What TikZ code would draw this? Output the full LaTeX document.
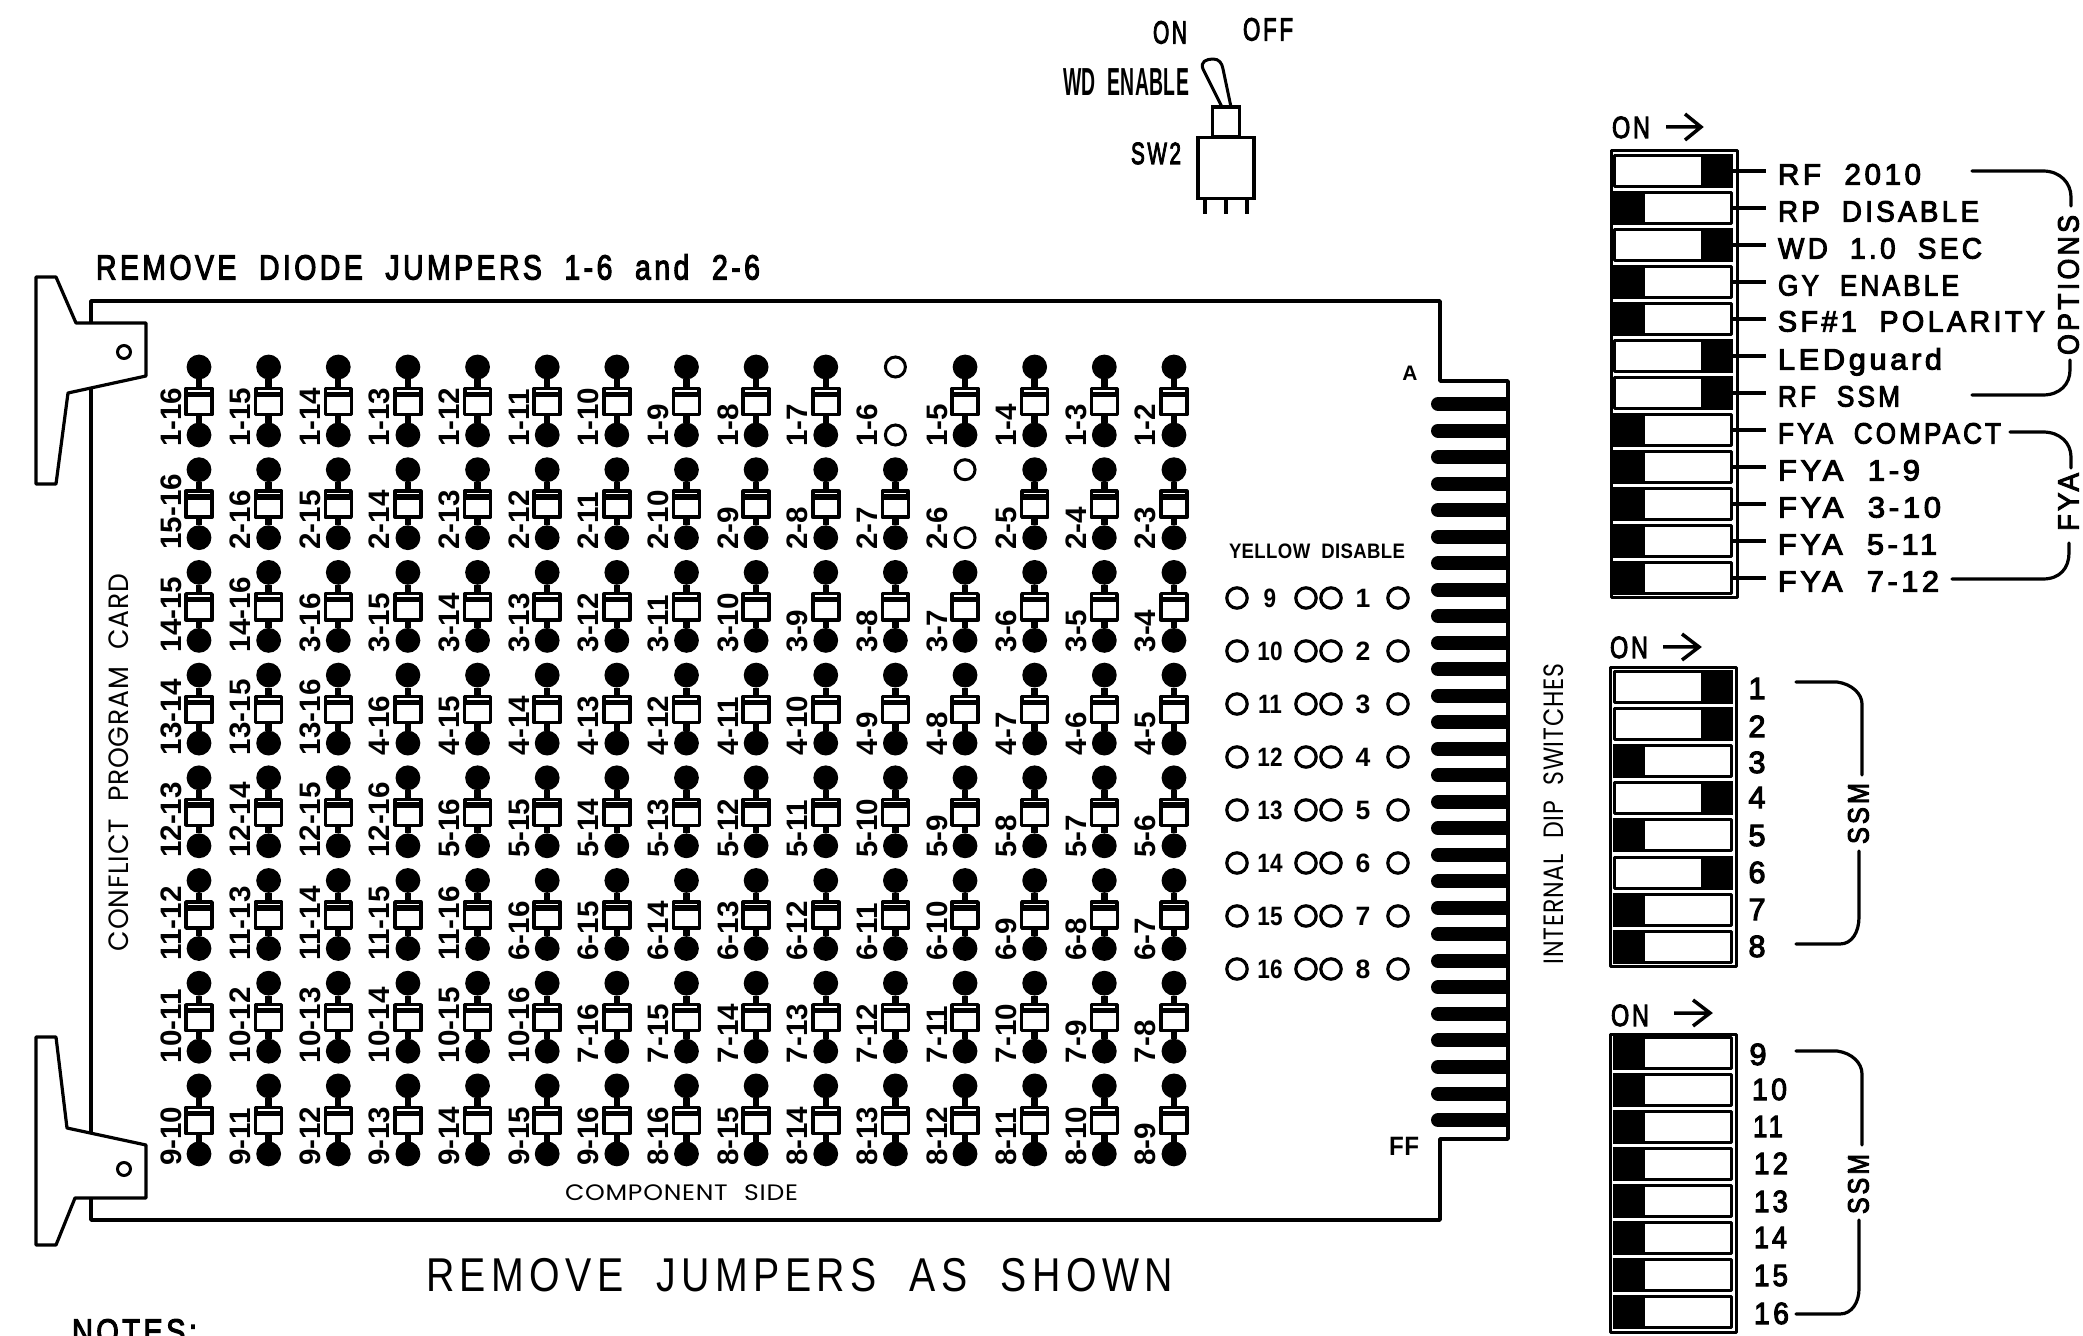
\documentclass[tikz,border=0pt]{standalone}
\usepackage{fontspec}
\usepackage{graphicx}
\setmainfont{Liberation Sans}
\newfontfamily\cad[LetterSpace=12,WordSpace=2,FakeBold=3.5]{Liberation Sans}
\newfontfamily\cadb[LetterSpace=2,WordSpace=2]{Liberation Sans Bold}
\newfontfamily\cadl[LetterSpace=14,WordSpace=2]{Liberation Sans}
\newfontfamily\geo[LetterSpace=3,WordSpace=2.2]{Poppins}
\newsavebox\fitb
\newcommand\fitbox[2]{\sbox\fitb{#2}\pgfmathsetmacro\fitr{(#1)*0.5/\the\wd\fitb}\scalebox{\fitr}[1]{\usebox\fitb}}
\tikzset{
  txt/.style={inner sep=0,outer sep=0,text=black},
  wire/.style={line width=1.75pt,line join=round,line cap=round},
  pin/.style={circle,fill=black,draw=none,minimum size=12.4pt,inner sep=0,outer sep=0},
  openpin/.style={circle,fill=white,draw=black,line width=1.5pt,minimum size=10pt,inner sep=0,outer sep=0},
  diode/.style={rectangle,draw=black,fill=white,line width=1.75pt,minimum width=13pt,minimum height=13pt,inner sep=0,outer sep=0,line join=round},
  stem/.style={line width=3.2pt},
  slot/.style={rectangle,draw=black,fill=white,line width=1.5pt,minimum width=58.5pt,minimum height=15.5pt,inner sep=0,outer sep=0,line join=round},
  dipcase/.style={draw=black,line width=1.5pt,line join=round},
  lead/.style={line width=1.75pt},
  bracket/.style={line width=1.6pt,line cap=round},
  finger/.style={line width=7pt},
}
% name, font, cap, xL, xR, yc, text
\newcommand\lbl[7]{\node[txt,anchor=base west] (#1) at (#4,{#6+#3/2}) {\pgfmathsetmacro\fs{#3/0.716*0.5}\fitbox{(#5)-(#4)}{#2\fontsize{\fs pt}{\fs pt}\selectfont #7}};}
% name, font, cap, xc, yc, text
\newcommand\clbl[6]{\node[txt,anchor=base] (#1) at (#4,{#5+#3/2}) {\pgfmathsetmacro\fs{#3/0.716*0.5}#2\fontsize{\fs pt}{\fs pt}\selectfont #6};}
% name, font, cap, xc, ybottom, ytop, text
\newcommand\vlbl[7]{\node[txt,anchor=base west,rotate=90] (#1) at ({#4+#3/2},#5) {\pgfmathsetmacro\fs{#3/0.716*0.5}\fitbox{(#5)-(#6)}{#2\fontsize{\fs pt}{\fs pt}\selectfont #7}};}
% row, col, label
\newcommand\jumper[3]{%
  \pgfmathsetmacro\jx{199+69.64*#2}\pgfmathsetmacro\jy{367+102.7*#1}%
  \pgfmathsetmacro\jb{\jy+68}\pgfmathsetmacro\jd{\jy+34.5}%
  \node[pin] (t-#1-#2) at (\jx,\jy) {};
  \node[pin] (b-#1-#2) at (\jx,\jb) {};
  \node[diode] (d-#1-#2) at (\jx,\jd) {};
  \draw[stem] (t-#1-#2) -- (d-#1-#2.north);
  \draw[stem] (b-#1-#2) -- (d-#1-#2.south);
  \fill[black] (\jx-13,\jy+21.5) rectangle (\jx+13,\jy+30);
  \draw[white,line width=0.8pt] (\jx-11,\jy+23.8) -- (\jx+11,\jy+23.8);
  \node[txt,anchor=base west,rotate=90] (l-#1-#2) at (\jx-18,\jy+80) {\fontsize{14.8pt}{14.8pt}\bfseries\selectfont #3};
}
\newcommand\removed[3]{%
  \pgfmathsetmacro\jx{199+69.64*#2}\pgfmathsetmacro\jy{367+102.7*#1}%
  \pgfmathsetmacro\jb{\jy+68}%
  \node[openpin] (t-#1-#2) at (\jx,\jy) {};
  \node[openpin] (b-#1-#2) at (\jx,\jb) {};
  \node[txt,anchor=base west,rotate=90] (l-#1-#2) at (\jx-18,\jy+80) {\fontsize{14.8pt}{14.8pt}\bfseries\selectfont #3};
}
\newcommand\dipsw[3]{% name, yc, black-part left x
  \node[slot] (#1) at (1673,#2) {};
  \fill[black] (#3,#2-17) rectangle (#3+32,#2+17);
}
\begin{document}
\begin{tikzpicture}[x=0.5pt,y=-0.5pt]
\useasboundingbox (0,0) rectangle (2083,1336);
\clip (0,0) rectangle (2083,1336);
\fill[white] (0,0) rectangle (2083,1336);
% board
\draw[wire] (91,301) -- (1440,301) -- (1440,381) -- (1508,381) -- (1508,1139) -- (1440,1139) -- (1440,1220) -- (91,1220) -- cycle;
% ejectors
\draw[wire,line width=1.6pt,fill=white] (36,277) -- (56,277) -- (76,323) -- (146,323) -- (146,376) -- (68,393) -- (56,484) -- (36,484) -- cycle;
\node[circle,draw=black,line width=1.5pt,minimum size=6.5pt,inner sep=0] (holea) at (124,352) {};
\draw[wire,line width=1.6pt,fill=white] (36,1037) -- (56,1037) -- (67,1128) -- (146,1145) -- (146,1198) -- (75,1198) -- (56,1245) -- (36,1245) -- cycle;
\node[circle,draw=black,line width=1.5pt,minimum size=6.5pt,inner sep=0] (holeb) at (124,1169) {};
% fingers
\foreach \i in {0,...,27}{
  \pgfmathsetmacro\fy{404+26.52*\i}
  \draw[finger,line cap=round] (1438,\fy) -- (1460,\fy);
  \draw[finger] (1450,\fy) -- (1508,\fy);
}
% jumpers
\foreach \lab [count=\c from 0] in {1-16,1-15,1-14,1-13,1-12,1-11,1-10,1-9,1-8,1-7}{\jumper{0}{\c}{\lab}}
\removed{0}{10}{1-6}
\foreach \lab [count=\c from 11] in {1-5,1-4,1-3,1-2}{\jumper{0}{\c}{\lab}}
\foreach \lab [count=\c from 0] in {15-16,2-16,2-15,2-14,2-13,2-12,2-11,2-10,2-9,2-8,2-7}{\jumper{1}{\c}{\lab}}
\removed{1}{11}{2-6}
\foreach \lab [count=\c from 12] in {2-5,2-4,2-3}{\jumper{1}{\c}{\lab}}
\foreach \lab [count=\c from 0] in {14-15,14-16,3-16,3-15,3-14,3-13,3-12,3-11,3-10,3-9,3-8,3-7,3-6,3-5,3-4}{\jumper{2}{\c}{\lab}}
\foreach \lab [count=\c from 0] in {13-14,13-15,13-16,4-16,4-15,4-14,4-13,4-12,4-11,4-10,4-9,4-8,4-7,4-6,4-5}{\jumper{3}{\c}{\lab}}
\foreach \lab [count=\c from 0] in {12-13,12-14,12-15,12-16,5-16,5-15,5-14,5-13,5-12,5-11,5-10,5-9,5-8,5-7,5-6}{\jumper{4}{\c}{\lab}}
\foreach \lab [count=\c from 0] in {11-12,11-13,11-14,11-15,11-16,6-16,6-15,6-14,6-13,6-12,6-11,6-10,6-9,6-8,6-7}{\jumper{5}{\c}{\lab}}
\foreach \lab [count=\c from 0] in {10-11,10-12,10-13,10-14,10-15,10-16,7-16,7-15,7-14,7-13,7-12,7-11,7-10,7-9,7-8}{\jumper{6}{\c}{\lab}}
\foreach \lab [count=\c from 0] in {9-10,9-11,9-12,9-13,9-14,9-15,9-16,8-16,8-15,8-14,8-13,8-12,8-11,8-10,8-9}{\jumper{7}{\c}{\lab}}
% yellow disable
\lbl{yd}{\cadb}{15}{1229}{1405}{551}{YELLOW DISABLE}
\foreach \l/\r [count=\i from 0] in {9/1,10/2,11/3,12/4,13/5,14/6,15/7,16/8}{
  \pgfmathsetmacro\yy{598+53*\i}
  \node[circle,draw=black,line width=1.6pt,minimum size=10.2pt,inner sep=0] (ya-\i) at (1237,\yy) {};
  \node[circle,draw=black,line width=1.6pt,minimum size=10.2pt,inner sep=0] (yb-\i) at (1306,\yy) {};
  \node[circle,draw=black,line width=1.6pt,minimum size=10.2pt,inner sep=0] (yc-\i) at (1331,\yy) {};
  \node[circle,draw=black,line width=1.6pt,minimum size=10.2pt,inner sep=0] (yd-\i) at (1398,\yy) {};
  \clbl{yl-\i}{\bfseries}{19}{1270}{\yy}{\scalebox{0.85}[1]{\l}}
  \clbl{yr-\i}{\bfseries}{19}{1363}{\yy}{\r}
}
% board texts
\lbl{ttl}{\cad}{25}{96}{760}{267}{REMOVE DIODE JUMPERS 1-6 and 2-6}
\lbl{rem}{\cadl}{34}{426}{1173}{1274}{REMOVE JUMPERS AS SHOWN}
\lbl{notes}{\cad}{25}{72}{197}{1331}{NOTES:}
\lbl{comp}{\geo}{16}{565}{798}{1192}{COMPONENT SIDE}
\vlbl{cpc}{\geo}{20}{118}{951}{574}{CONFLICT PROGRAM CARD}
\vlbl{ids}{\geo}{20}{1553}{964}{664}{INTERNAL DIP SWITCHES}
\clbl{ca}{\bfseries}{15}{1410}{373}{A}
\lbl{cff}{\cadb}{19}{1389}{1419}{1146}{FF}
% toggle switch
\lbl{son}{\cad}{23}{1153}{1187}{32}{ON}
\lbl{soff}{\cad}{23}{1243}{1293}{29}{OFF}
\lbl{swd}{\cadb}{28}{1063}{1189}{82}{WD ENABLE}
\lbl{ssw}{\cad}{22}{1131}{1181}{153}{SW2}
\draw[wire,line width=1.5pt] (1222,107) -- (1203,69) .. controls (1200,62) and (1206,59) .. (1213,59) .. controls (1219,59) and (1222,63) .. (1223,69) -- (1231,107);
\node[rectangle,draw=black,fill=white,line width=1.6pt,inner sep=0,minimum width=13.5pt,minimum height=15pt] (collar) at (1226,122) {};
\node[rectangle,draw=black,fill=white,line width=1.6pt,inner sep=0,minimum width=28pt,minimum height=30.5pt] (body) at (1226,168) {};
\foreach \px in {1205,1226,1247}{\draw[line width=1.6pt] (\px,198) -- (\px,214);}
% DIP 1
\draw[dipcase] (1611,151) rectangle (1737,598);
\foreach \s [count=\i from 0] in {1701,1613,1701,1613,1613,1701,1701,1613,1613,1613,1613,1613}{
  \pgfmathsetmacro\yy{171+37*\i}
  \dipsw{da-\i}{\yy}{\s}
  \coordinate (la-\i) at (1766,\yy);
  \draw[lead] (da-\i.east) -- (la-\i);
}
\lbl{o1}{\cad}{21}{1778}{1921}{174}{RF 2010}
\lbl{o2}{\cad}{21}{1778}{1979}{211}{RP DISABLE}
\lbl{o3}{\cad}{21}{1778}{1982}{248}{WD 1.0 SEC}
\lbl{o4}{\cad}{21}{1778}{1959}{285}{GY ENABLE}
\lbl{o5}{\cad}{21}{1778}{2045}{321}{SF\#1 POLARITY}
\lbl{o6}{\cad}{21}{1778}{1942}{359}{LEDguard}
\lbl{o7}{\cad}{21}{1778}{1900}{396}{RF SSM}
\lbl{f1}{\cad}{21}{1778}{2001}{433}{FYA COMPACT}
\lbl{f2}{\cad}{21}{1778}{1920}{470}{FYA 1-9}
\lbl{f3}{\cad}{21}{1778}{1941}{507}{FYA 3-10}
\lbl{f4}{\cad}{21}{1778}{1937}{544}{FYA 5-11}
\lbl{f5}{\cad}{21}{1778}{1939}{581}{FYA 7-12}
\lbl{on1}{\cad}{22}{1612}{1650}{127}{ON}
\coordinate (a1s) at (1666,127); \coordinate (a1e) at (1701,127);
\draw[lead] (a1s) -- (a1e) (1685,114) -- (a1e) -- (1685,140);
\vlbl{opt}{\cad}{21}{2068}{355}{215}{OPTIONS}
\coordinate (b1a) at (1972,171); \coordinate (b1b) at (2071,206);
\draw[bracket] (b1a) -- (2043,171) .. controls (2060,171) and (2071,183) .. (2071,197) -- (b1b);
\coordinate (b1c) at (2070,360); \coordinate (b1d) at (1972,395);
\draw[bracket] (b1c) -- (2070,370) .. controls (2070,384) and (2060,395) .. (2043,395) -- (b1d);
\vlbl{fyal}{\cad}{21}{2068}{531}{473}{FYA}
\coordinate (b2a) at (2010,432); \coordinate (b2b) at (2071,468);
\draw[bracket] (b2a) -- (2043,432) .. controls (2060,432) and (2071,443) .. (2071,457) -- (b2b);
\coordinate (b2c) at (2069,543); \coordinate (b2d) at (1952,579);
\draw[bracket] (b2c) -- (2069,553) .. controls (2069,568) and (2060,579) .. (2043,579) -- (b2d);
% DIP 2
\draw[dipcase] (1610,668) rectangle (1736,966);
\foreach \s [count=\i from 0] in {1701,1701,1613,1701,1613,1701,1613,1613}{
  \pgfmathsetmacro\yy{687+37.1*\i}
  \dipsw{db-\i}{\yy}{\s}
}
\foreach \t/\yy [count=\i from 0] in {1/688,2/726,3/762,4/797,5/835,6/872,7/909,8/946}{
  \clbl{nb-\i}{\cad}{22}{1757}{\yy}{\t}
}
\lbl{on2}{\cad}{22}{1610}{1648}{647}{ON}
\coordinate (a2s) at (1663,647); \coordinate (a2e) at (1699,647);
\draw[lead] (a2s) -- (a2e) (1682,634) -- (a2e) -- (1682,660);
\vlbl{ssm1}{\cad}{21}{1858}{844}{783}{SSM}
\coordinate (b3a) at (1796,682); \coordinate (b3b) at (1862,775);
\draw[bracket] (b3a) -- (1837,682) .. controls (1852,684) and (1862,694) .. (1862,704) -- (b3b);
\coordinate (b3c) at (1859,851); \coordinate (b3d) at (1796,944);
\draw[bracket] (b3c) -- (1859,917) .. controls (1859,932) and (1852,944) .. (1840,944) -- (b3d);
% DIP 3
\draw[dipcase] (1610,1034) rectangle (1736,1332);
\foreach \i in {0,...,7}{
  \pgfmathsetmacro\yy{1053+37*\i}
  \dipsw{dc-\i}{\yy}{1613}
}
\clbl{nc0}{\cad}{22}{1758}{1054}{9}
\lbl{nc1}{\cad}{22}{1752}{1787}{1089}{10}
\lbl{nc2}{\cad}{22}{1753}{1783}{1126}{11}
\lbl{nc3}{\cad}{22}{1754}{1788}{1163}{12}
\lbl{nc4}{\cad}{22}{1754}{1788}{1201}{13}
\lbl{nc5}{\cad}{22}{1754}{1787}{1237}{14}
\lbl{nc6}{\cad}{22}{1754}{1788}{1275}{15}
\lbl{nc7}{\cad}{22}{1754}{1789}{1313}{16}
\lbl{on3}{\cad}{22}{1611}{1649}{1015}{ON}
\coordinate (a3s) at (1674,1013); \coordinate (a3e) at (1710,1013);
\draw[lead] (a3s) -- (a3e) (1693,1000) -- (a3e) -- (1693,1026);
\vlbl{ssm2}{\cad}{21}{1858}{1214}{1154}{SSM}
\coordinate (b4a) at (1796,1051); \coordinate (b4b) at (1862,1145);
\draw[bracket] (b4a) -- (1837,1051) .. controls (1852,1053) and (1862,1063) .. (1862,1074) -- (b4b);
\coordinate (b4c) at (1859,1220); \coordinate (b4d) at (1796,1314);
\draw[bracket] (b4c) -- (1859,1289) .. controls (1859,1302) and (1852,1314) .. (1840,1314) -- (b4d);
\end{tikzpicture}
\end{document}
